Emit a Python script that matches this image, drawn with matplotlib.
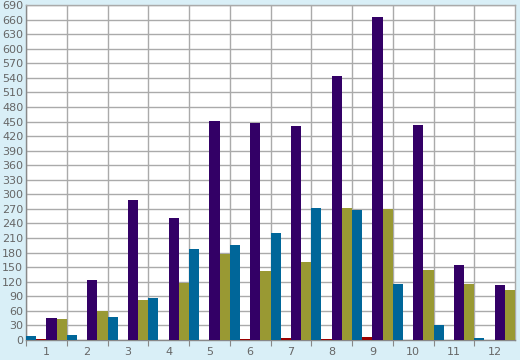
import matplotlib
matplotlib.use('Agg')
import matplotlib.pyplot as plt
import numpy as np

# data
months = ['1', '2', '3', '4', '5', '6', '7', '8', '9', '10', '11', '12']
blue = [8, 10, 47, 86, 187, 196, 220, 272, 268, 115, 31, 4]
red = [2, 1, 1, 1, 1, 3, 5, 3, 7, 1, 1, 1]
purple = [45, 123, 288, 251, 451, 447, 441, 544, 665, 443, 154, 113]
olive = [43, 59, 82, 117, 177, 142, 161, 271, 270, 144, 115, 103]
y_ticks = list(range(0, 691, 30))

series = [blue, red, purple, olive]
colors = ['#006699', '#990000', '#330066', '#999933']

bg = '#d9eff7'
fig = plt.figure(figsize=(5.2, 3.6), dpi=100, facecolor=bg)
ax = fig.add_axes([26 / 520, 20 / 360, 489 / 520, 335 / 360])
ax.set_facecolor('white')

x = np.arange(len(months))
w = 0.25
for k, (vals, c) in enumerate(zip(series, colors)):
    ax.bar(x + k * w, vals, width=w, align='edge', color=c, zorder=3)

ax.set_xlim(0, len(months))
ax.set_ylim(0, 690)
ax.set_yticks(y_ticks)
ax.set_xticks(x, minor=False)
ax.set_xticklabels([])
ax.set_xticks(x + 0.5, minor=True)
ax.set_xticklabels(months, minor=True)

ax.grid(True, color='#aaaaaa', linewidth=1, zorder=0)
ax.tick_params(axis='x', which='major', length=4, color='#888888', direction='out')
ax.tick_params(axis='x', which='minor', length=0, pad=5, labelsize=8, labelcolor='#666666')
ax.tick_params(axis='y', length=0, pad=2, labelsize=8, labelcolor='#666666')
for s in ax.spines.values():
    s.set_color('#aaaaaa')
    s.set_linewidth(1)
ax.spines['left'].set_color('#888888')
ax.spines['bottom'].set_color('#888888')

fig.savefig('out.png', dpi=100, facecolor=bg)
